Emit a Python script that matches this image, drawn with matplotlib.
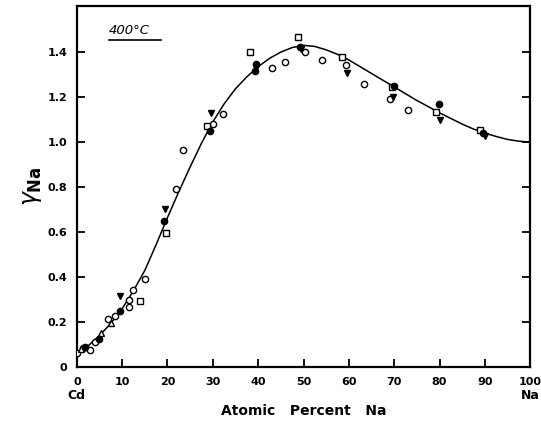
import matplotlib
matplotlib.use("Agg")
import matplotlib.pyplot as plt
from matplotlib.transforms import blended_transform_factory

# Smooth fitted curve
curve_x = [0, 2.5, 5, 7.5, 10, 12.5, 15, 17.5, 20, 22.5, 25, 27.5, 30, 32.5, 35, 37.5, 40,
           42.5, 45, 47.5, 50, 52.5, 55, 57.5, 60, 62.5, 65, 67.5, 70, 72.5, 75, 77.5, 80,
           82.5, 85, 87.5, 90, 92.5, 95, 97.5, 100]
curve_y = [0.06, 0.095, 0.14, 0.195, 0.26, 0.34, 0.43, 0.545, 0.665, 0.78, 0.89, 0.995, 1.09,
           1.17, 1.237, 1.29, 1.335, 1.372, 1.40, 1.42, 1.43, 1.425, 1.41, 1.39, 1.365, 1.335,
           1.305, 1.275, 1.245, 1.215, 1.185, 1.158, 1.13, 1.105, 1.08, 1.058, 1.04, 1.025,
           1.012, 1.004, 1.0]

# Data points by marker type
open_circle_x = [0, 1.4, 2.9, 4.0, 6.9, 8.4, 11.5, 11.5, 12.3, 15.0, 21.8, 23.5, 30.0, 32.2,
                 43.0, 45.9, 50.3, 54.0, 59.4, 63.4, 69.1, 73.1]
open_circle_y = [0.064, 0.086, 0.076, 0.113, 0.216, 0.227, 0.298, 0.268, 0.342, 0.39, 0.79,
                 0.964, 1.08, 1.127, 1.33, 1.357, 1.399, 1.364, 1.342, 1.256, 1.19, 1.142]

filled_circle_x = [1.8, 4.9, 9.6, 19.2, 29.4, 39.3, 39.5, 49.2, 70.0, 79.8, 89.7]
filled_circle_y = [0.09, 0.123, 0.25, 0.65, 1.05, 1.315, 1.345, 1.424, 1.25, 1.169, 1.041]

open_square_x = [14.0, 19.6, 28.8, 38.2, 48.7, 58.4, 69.5, 79.3, 89.0]
open_square_y = [0.295, 0.597, 1.071, 1.399, 1.468, 1.379, 1.245, 1.135, 1.053]

filled_tri_x = [9.5, 19.4, 29.5, 39.5, 49.5, 59.7, 69.8, 80.0, 90.0]
filled_tri_y = [0.316, 0.705, 1.13, 1.33, 1.412, 1.305, 1.20, 1.10, 1.026]

open_tri_x = [1.0, 5.4, 7.6]
open_tri_y = [0.083, 0.15, 0.197]

x_ticks = [0, 10, 20, 30, 40, 50, 60, 70, 80, 90, 100]
x_tick_labels = ["0", "10", "20", "30", "40", "50", "60", "70", "80", "90", "100"]
y_ticks = [0, 0.2, 0.4, 0.6, 0.8, 1.0, 1.2, 1.4]
y_tick_labels = ["0", "0.2", "0.4", "0.6", "0.8", "1.0", "1.2", "1.4"]

fig = plt.figure(figsize=(5.41, 4.24), dpi=100)
ax = fig.add_axes([0.142, 0.134, 0.838, 0.852])

ax.plot(curve_x, curve_y, color="black", lw=1.1, zorder=2)

ms = 4.5
ax.plot(open_circle_x, open_circle_y, 'o', ms=ms, mfc='white', mec='black', mew=1.0, zorder=3)
ax.plot(open_square_x, open_square_y, 's', ms=ms, mfc='white', mec='black', mew=1.0, zorder=3)
ax.plot(open_tri_x, open_tri_y, '^', ms=ms, mfc='white', mec='black', mew=1.0, zorder=3)
ax.plot(filled_circle_x, filled_circle_y, 'o', ms=ms, color='black', zorder=4)
ax.plot(filled_tri_x, filled_tri_y, 'v', ms=ms + 0.5, color='black', zorder=4)

ax.set_xlim(0, 100)
ax.set_ylim(0, 1.605)
ax.set_xticks(x_ticks)
ax.set_xticklabels(x_tick_labels)
ax.set_yticks(y_ticks)
ax.set_yticklabels(y_tick_labels)
ax.tick_params(axis='both', direction='in', length=6, width=1.3, labelsize=8, pad=7)
ax.tick_params(axis='y', right=True)
for lbl in ax.get_xticklabels() + ax.get_yticklabels():
    lbl.set_fontweight('bold')
for sp in ax.spines.values():
    sp.set_linewidth(1.6)

ax.set_xlabel("Atomic   Percent   Na", fontsize=10, fontweight='bold', labelpad=12)
ax.set_ylabel(r"$\gamma_{\mathbf{Na}}$", fontsize=17, labelpad=2)

tr = blended_transform_factory(ax.transData, ax.transAxes)
ax.text(0, -0.078, "Cd", transform=tr, ha='center', va='center', fontsize=9, fontweight='bold')
ax.text(100, -0.078, "Na", transform=tr, ha='center', va='center', fontsize=9, fontweight='bold')

ax.text(7, 1.495, "400°C", fontsize=9.5, style='italic', ha='left', va='center')
ax.plot([7, 18.5], [1.455, 1.455], color='black', lw=1.2, clip_on=False)

fig.savefig("out.png", dpi=100)
